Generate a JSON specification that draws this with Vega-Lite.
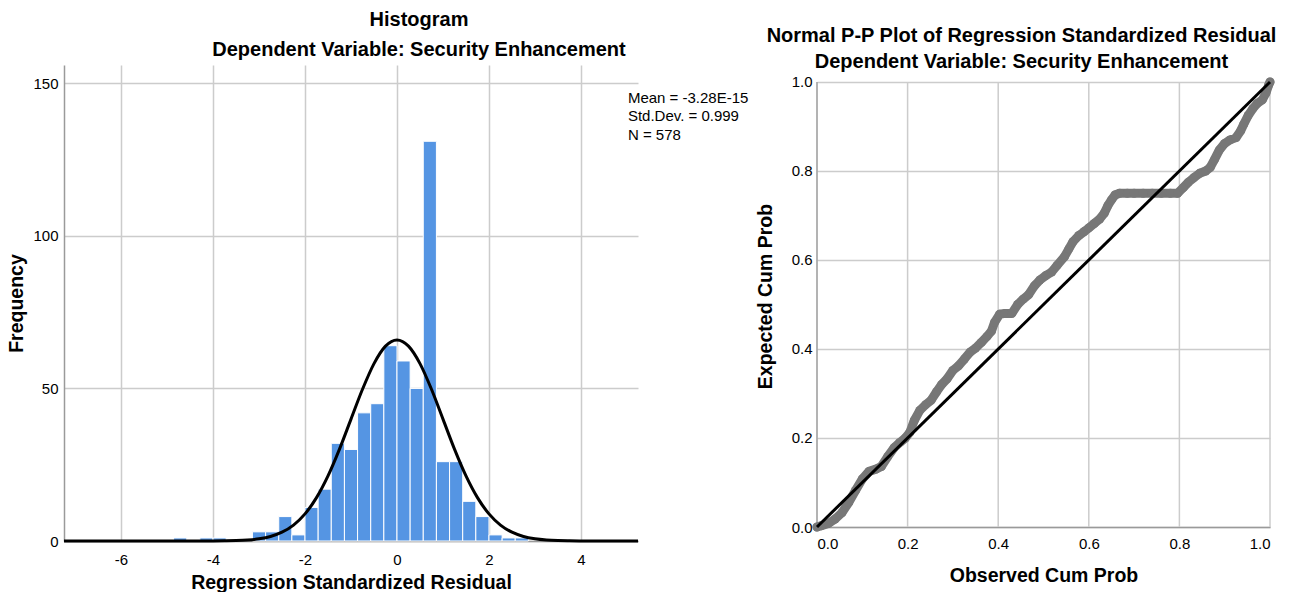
{
  "$schema": "https://vega.github.io/schema/vega-lite/v6.json",
  "background": "white",
  "padding": {"left": 6, "top": 10, "right": 5, "bottom": 0},
  "spacing": 6,
  "config": {
    "font": "Liberation Sans",
    "view": {"stroke": null},
    "title": {"fontSize": 20, "fontWeight": "bold", "color": "#000000", "anchor": "middle", "font": "Liberation Sans"},
    "axis": {
      "gridColor": "#cccccc",
      "gridWidth": 1.5,
      "domainColor": "#9a9a9a",
      "domainWidth": 1.5,
      "ticks": false,
      "labelFontSize": 15,
      "labelColor": "#000000",
      "titleFontSize": 19.5,
      "titleFontWeight": "bold",
      "titleColor": "#000000"
    }
  },
  "datasets": {
    "hist": [
      {"x0": -4.857, "x1": -4.571, "count": 1},
      {"x0": -4.286, "x1": -4.0, "count": 1},
      {"x0": -4.0, "x1": -3.714, "count": 1},
      {"x0": -3.143, "x1": -2.857, "count": 3},
      {"x0": -2.857, "x1": -2.571, "count": 3},
      {"x0": -2.571, "x1": -2.286, "count": 8},
      {"x0": -2.286, "x1": -2.0, "count": 2},
      {"x0": -2.0, "x1": -1.714, "count": 11},
      {"x0": -1.714, "x1": -1.429, "count": 17},
      {"x0": -1.429, "x1": -1.143, "count": 32},
      {"x0": -1.143, "x1": -0.857, "count": 30},
      {"x0": -0.857, "x1": -0.571, "count": 42},
      {"x0": -0.571, "x1": -0.286, "count": 45},
      {"x0": -0.286, "x1": 0.0, "count": 64},
      {"x0": 0.0, "x1": 0.286, "count": 59},
      {"x0": 0.286, "x1": 0.571, "count": 50},
      {"x0": 0.571, "x1": 0.857, "count": 131},
      {"x0": 0.857, "x1": 1.143, "count": 26},
      {"x0": 1.143, "x1": 1.429, "count": 26},
      {"x0": 1.429, "x1": 1.714, "count": 13},
      {"x0": 1.714, "x1": 2.0, "count": 8},
      {"x0": 2.0, "x1": 2.286, "count": 2},
      {"x0": 2.286, "x1": 2.571, "count": 1},
      {"x0": 2.571, "x1": 2.857, "count": 1}
    ],
    "curve": [
      {"x": -7.24, "y": 0}, {"x": -5.0, "y": 0}, {"x": -4.5, "y": 0.0}, {"x": -4.0, "y": 0.02},
      {"x": -3.75, "y": 0.06}, {"x": -3.5, "y": 0.14}, {"x": -3.25, "y": 0.33}, {"x": -3.0, "y": 0.73},
      {"x": -2.75, "y": 1.49}, {"x": -2.5, "y": 2.88}, {"x": -2.25, "y": 5.22}, {"x": -2.0, "y": 8.88},
      {"x": -1.75, "y": 14.21}, {"x": -1.5, "y": 21.34}, {"x": -1.25, "y": 30.12}, {"x": -1.0, "y": 39.94},
      {"x": -0.75, "y": 49.72}, {"x": -0.5, "y": 58.14}, {"x": -0.25, "y": 63.87}, {"x": 0.0, "y": 65.9},
      {"x": 0.25, "y": 63.87}, {"x": 0.5, "y": 58.14}, {"x": 0.75, "y": 49.72}, {"x": 1.0, "y": 39.94},
      {"x": 1.25, "y": 30.12}, {"x": 1.5, "y": 21.34}, {"x": 1.75, "y": 14.21}, {"x": 2.0, "y": 8.88},
      {"x": 2.25, "y": 5.22}, {"x": 2.5, "y": 2.88}, {"x": 2.75, "y": 1.49}, {"x": 3.0, "y": 0.73},
      {"x": 3.25, "y": 0.33}, {"x": 3.5, "y": 0.14}, {"x": 3.75, "y": 0.06}, {"x": 4.0, "y": 0.02},
      {"x": 4.5, "y": 0}, {"x": 5.24, "y": 0}
    ],
    "stats": [
      {"x": 5.02, "y": 145.3, "label": "Mean = -3.28E-15"},
      {"x": 5.02, "y": 139.4, "label": "Std.Dev. = 0.999"},
      {"x": 5.02, "y": 133.2, "label": "N = 578"}
    ],
    "ppgrid": [{"g": 0.2}, {"g": 0.4}, {"g": 0.6}, {"g": 0.8}, {"g": 1.0}],
    "ppaxis": [{"g": 0}],
    "pp": [
      {"obs": 0.000, "exp": 0.000}, {"obs": 0.010, "exp": 0.003}, {"obs": 0.025, "exp": 0.008},
      {"obs": 0.040, "exp": 0.018}, {"obs": 0.055, "exp": 0.032}, {"obs": 0.070, "exp": 0.055},
      {"obs": 0.085, "exp": 0.082}, {"obs": 0.100, "exp": 0.108}, {"obs": 0.115, "exp": 0.125},
      {"obs": 0.130, "exp": 0.130}, {"obs": 0.142, "exp": 0.136}, {"obs": 0.156, "exp": 0.158},
      {"obs": 0.170, "exp": 0.178}, {"obs": 0.183, "exp": 0.190}, {"obs": 0.195, "exp": 0.200},
      {"obs": 0.205, "exp": 0.213}, {"obs": 0.215, "exp": 0.240}, {"obs": 0.227, "exp": 0.262},
      {"obs": 0.240, "exp": 0.275}, {"obs": 0.252, "exp": 0.285}, {"obs": 0.264, "exp": 0.304},
      {"obs": 0.275, "exp": 0.320}, {"obs": 0.287, "exp": 0.333}, {"obs": 0.300, "exp": 0.352},
      {"obs": 0.312, "exp": 0.362}, {"obs": 0.325, "exp": 0.377}, {"obs": 0.338, "exp": 0.393},
      {"obs": 0.350, "exp": 0.402}, {"obs": 0.363, "exp": 0.415}, {"obs": 0.375, "exp": 0.428},
      {"obs": 0.385, "exp": 0.440}, {"obs": 0.392, "exp": 0.460}, {"obs": 0.403, "exp": 0.478},
      {"obs": 0.415, "exp": 0.480}, {"obs": 0.430, "exp": 0.480}, {"obs": 0.443, "exp": 0.500},
      {"obs": 0.455, "exp": 0.512}, {"obs": 0.467, "exp": 0.522}, {"obs": 0.480, "exp": 0.542},
      {"obs": 0.492, "exp": 0.555}, {"obs": 0.505, "exp": 0.565}, {"obs": 0.518, "exp": 0.573},
      {"obs": 0.530, "exp": 0.588}, {"obs": 0.546, "exp": 0.607}, {"obs": 0.556, "exp": 0.625},
      {"obs": 0.565, "exp": 0.641}, {"obs": 0.578, "exp": 0.655}, {"obs": 0.590, "exp": 0.664},
      {"obs": 0.600, "exp": 0.672}, {"obs": 0.612, "exp": 0.682}, {"obs": 0.624, "exp": 0.692},
      {"obs": 0.634, "exp": 0.705}, {"obs": 0.642, "exp": 0.722}, {"obs": 0.650, "exp": 0.735},
      {"obs": 0.658, "exp": 0.746}, {"obs": 0.668, "exp": 0.750}, {"obs": 0.685, "exp": 0.750},
      {"obs": 0.700, "exp": 0.750}, {"obs": 0.720, "exp": 0.750}, {"obs": 0.740, "exp": 0.750},
      {"obs": 0.760, "exp": 0.750}, {"obs": 0.780, "exp": 0.750}, {"obs": 0.796, "exp": 0.750},
      {"obs": 0.808, "exp": 0.762}, {"obs": 0.820, "exp": 0.775}, {"obs": 0.832, "exp": 0.785},
      {"obs": 0.845, "exp": 0.795}, {"obs": 0.858, "exp": 0.800}, {"obs": 0.868, "exp": 0.808},
      {"obs": 0.877, "exp": 0.825}, {"obs": 0.888, "exp": 0.847}, {"obs": 0.900, "exp": 0.862},
      {"obs": 0.912, "exp": 0.870}, {"obs": 0.925, "exp": 0.875}, {"obs": 0.935, "exp": 0.890},
      {"obs": 0.942, "exp": 0.905}, {"obs": 0.952, "exp": 0.925}, {"obs": 0.962, "exp": 0.940},
      {"obs": 0.972, "exp": 0.952}, {"obs": 0.983, "exp": 0.960}, {"obs": 0.991, "exp": 0.975},
      {"obs": 0.997, "exp": 0.993}, {"obs": 1.000, "exp": 1.000}
    ],
    "diag": [
      {"obs": 0, "exp": 0}, {"obs": 1, "exp": 1}
    ]
  },
  "hconcat": [
    {
      "width": 574,
      "height": 476,
      "title": {"text": ["Histogram", "Dependent Variable: Security Enhancement"], "lineHeight": 30, "dx": 68, "offset": 5},
      "layer": [
        {
          "data": {"name": "hist"},
          "mark": {"type": "rect", "color": "#5595E3", "stroke": "#ffffff", "strokeWidth": 1},
          "encoding": {
            "x": {"field": "x0", "type": "quantitative", "title": "Regression Standardized Residual",
                  "scale": {"domain": [-7.24, 5.24], "nice": false, "zero": false},
                  "axis": {"values": [-6, -4, -2, 0, 2, 4], "labelExpr": "replace(datum.label, '\u2212', '-')", "labelPadding": 11, "titlePadding": 6}},
            "x2": {"field": "x1"},
            "y": {"field": "count", "type": "quantitative", "title": "Frequency",
                  "scale": {"domain": [0, 156], "nice": false},
                  "axis": {"values": [0, 50, 100, 150], "labelPadding": 6, "titlePadding": 6}},
            "y2": {"datum": 0}
          }
        },
        {
          "data": {"name": "curve"},
          "mark": {"type": "line", "color": "#000000", "strokeWidth": 3, "interpolate": "monotone"},
          "encoding": {
            "x": {"field": "x", "type": "quantitative"},
            "y": {"field": "y", "type": "quantitative"}
          }
        },
        {
          "data": {"name": "stats"},
          "mark": {"type": "text", "align": "left", "baseline": "middle", "fontSize": 15, "color": "#000000"},
          "encoding": {
            "x": {"field": "x", "type": "quantitative"},
            "y": {"field": "y", "type": "quantitative"},
            "text": {"field": "label"}
          }
        }
      ]
    },
    {
      "width": 453,
      "height": 462,
      "title": {"text": ["Normal P-P Plot of Regression Standardized Residual", "Dependent Variable: Security Enhancement"], "lineHeight": 26, "dx": -22, "offset": -7, "frame": "group"},
      "layer": [
        {
          "data": {"name": "ppgrid"},
          "mark": {"type": "rule", "color": "#cccccc", "strokeWidth": 1.5},
          "encoding": {
            "x": {"field": "g", "type": "quantitative", "title": "Observed Cum Prob",
                  "scale": {"domain": [0, 1], "nice": false},
                  "axis": {"values": [0, 0.2, 0.4, 0.6, 0.8, 1.0], "format": ".1f", "grid": false, "labelPadding": 9, "titlePadding": 15}},
            "y": {"datum": 0, "type": "quantitative", "title": "Expected Cum Prob",
                  "scale": {"domain": [0, 1.0382], "nice": false},
                  "axis": {"values": [0, 0.2, 0.4, 0.6, 0.8, 1.0], "format": ".1f", "grid": true, "domain": false, "labelPadding": 5, "titlePadding": 16}},
            "y2": {"datum": 1}
          }
        },
        {
          "data": {"name": "ppaxis"},
          "mark": {"type": "rule", "color": "#9a9a9a", "strokeWidth": 1.5},
          "encoding": {
            "x": {"field": "g", "type": "quantitative", "title": "Observed Cum Prob"},
            "y": {"datum": 0, "type": "quantitative", "title": "Expected Cum Prob"},
            "y2": {"datum": 1}
          }
        },
        {
          "data": {"name": "pp"},
          "mark": {"type": "line", "color": "#777777", "strokeWidth": 9, "strokeCap": "round", "strokeJoin": "round"},
          "encoding": {
            "x": {"field": "obs", "type": "quantitative", "title": "Observed Cum Prob"},
            "y": {"field": "exp", "type": "quantitative", "title": "Expected Cum Prob",
                  "axis": {"values": [0, 0.2, 0.4, 0.6, 0.8, 1.0], "format": ".1f", "grid": true, "domain": false, "labelPadding": 5, "titlePadding": 16}}
          }
        },
        {
          "data": {"name": "pp"},
          "mark": {"type": "circle", "color": "#777777", "size": 80, "opacity": 1},
          "encoding": {
            "x": {"field": "obs", "type": "quantitative", "title": "Observed Cum Prob"},
            "y": {"field": "exp", "type": "quantitative", "title": "Expected Cum Prob"}
          }
        },
        {
          "data": {"name": "diag"},
          "mark": {"type": "line", "color": "#000000", "strokeWidth": 3},
          "encoding": {
            "x": {"field": "obs", "type": "quantitative", "title": "Observed Cum Prob"},
            "y": {"field": "exp", "type": "quantitative", "title": "Expected Cum Prob"}
          }
        }
      ]
    }
  ]
}
